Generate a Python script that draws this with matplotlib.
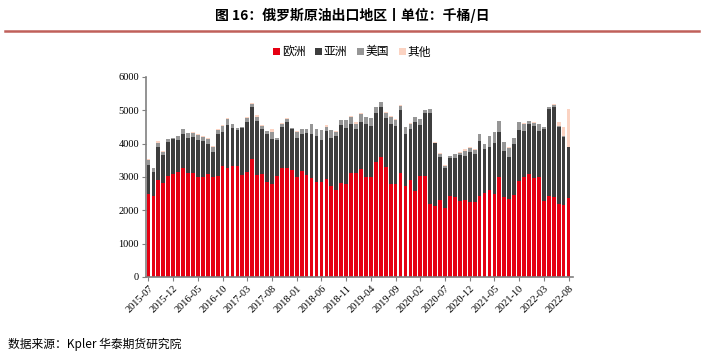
import matplotlib
matplotlib.use("Agg")
import matplotlib.pyplot as plt
from matplotlib.patches import Patch
import pandas as pd
import numpy as np

plt.rcParams['font.family'] = ['Noto Sans CJK SC', 'DejaVu Sans']

months = pd.period_range("2015-07", "2022-08", freq="M").strftime("%Y-%m").tolist()

europe = [2495, 2430, 2915, 2815, 3035, 3085, 3140, 3265, 3125, 3125,
          3015, 3015, 3095, 2990, 3035, 3345, 3265, 3345, 3345, 3075,
          3150, 3535, 3065, 3100, 2850, 2800, 3040, 3280, 3280, 3205,
          2990, 3180, 3065, 2965, 2845, 2865, 2955, 2730, 2600, 2830,
          2790, 3125, 3115, 3235, 2990, 3015, 3450, 3590, 3315, 2785,
          2800, 3110, 2725, 2900, 2595, 3020, 3030, 2200, 2140, 2320,
          2060, 2420, 2395, 2295, 2300, 2260, 2245, 2420, 2530, 2600,
          2485, 2990, 2395, 2330, 2465, 2880, 3000, 3080, 2965, 2995,
          2275, 2430, 2395, 2195, 2165, 2365]
asia = [870, 735, 990, 840, 1025, 1070, 975, 1020, 1060, 1075,
        1110, 1070, 905, 775, 1265, 1015, 1295, 1130, 1075, 1390,
        1505, 1575, 1620, 1330, 1455, 1345, 1085, 1230, 1375, 1230,
        1175, 1120, 1265, 1320, 1395, 1245, 1430, 1450, 1640, 1735,
        1690, 1475, 1335, 1425, 1590, 1520, 1485, 1510, 1465, 1815,
        1740, 1910, 1575, 1535, 2065, 1550, 1895, 2730, 1890, 1295,
        1205, 1140, 1165, 1355, 1345, 1500, 1450, 1670, 1305, 1315,
        1550, 1375, 1400, 1285, 1515, 1535, 1390, 1525, 1570, 1400,
        2180, 2625, 2715, 2320, 2035, 1525]
usa = [155, 100, 130, 110, 80, 15, 115, 145, 130, 110,
       140, 125, 150, 150, 125, 180, 185, 120, 50, 40,
       120, 90, 125, 110, 70, 215, 35, 95, 95, 25,
       195, 135, 110, 295, 200, 290, 115, 235, 125, 140,
       230, 210, 130, 230, 225, 225, 155, 145, 155, 215,
       185, 115, 200, 165, 145, 170, 75, 100, 5, 70,
       70, 65, 130, 80, 145, 100, 120, 205, 155, 320,
       325, 315, 250, 270, 195, 240, 210, 75, 75, 195,
       45, 50, 60, 15, 40, 5]
other = [25, 20, 40, 20, 10, 5, 10, 10, 20, 35,
         20, 15, 10, 10, 15, 15, 30, 10, 10, 5,
         15, 25, 40, 20, 15, 70, 15, 10, 15, 15,
         10, 10, 10, 10, 15, 15, 60, 10, 15, 10,
         10, 15, 60, 25, 10, 15, 10, 15, 10, 10,
         10, 15, 10, 10, 10, 10, 10, 10, 5, 40,
         10, 10, 10, 10, 40, 40, 10, 5, 10, 5,
         5, 10, 5, 10, 5, 10, 10, 10, 30, 10,
         15, 10, 10, 130, 250, 1140]

series_names = ["欧洲", "亚洲", "美国", "其他"]
colors = ["#E60012", "#3D3D3D", "#969696", "#FBD3C2"]
yticks = [0, 1000, 2000, 3000, 4000, 5000, 6000]

W, H = 704, 358
fig = plt.figure(figsize=(W / 100, H / 100), dpi=100)
ax = fig.add_axes([146 / W, 1 - 277 / H, (573 - 146) / W, (277 - 77) / H])

x = np.arange(len(months))
bottom = np.zeros(len(months))
for vals, c in zip([europe, asia, usa, other], colors):
    ax.bar(x, vals, bottom=bottom, width=0.76, color=c, linewidth=0)
    bottom += np.array(vals)

ax.set_xlim(-0.5, 85.9)
ax.set_ylim(0, 6000)
ax.set_yticks(yticks)
ax.set_yticklabels([str(v) for v in yticks], family="Liberation Serif", fontsize=7.5)
tick_idx = list(range(0, len(months), 5))
ax.set_xticks(tick_idx)
ax.set_xticklabels([months[i] for i in tick_idx], rotation=45, ha="right",
                   rotation_mode="anchor", family="Liberation Serif", fontsize=7.5)
for s in ["top", "right"]:
    ax.spines[s].set_visible(False)
for s in ["left", "bottom"]:
    ax.spines[s].set_color("#808080")
    ax.spines[s].set_linewidth(1.2)
ax.tick_params(axis="both", length=3, width=0.8, color="#808080", pad=2)

# title and rule
fig.text(0.5, 1 - 15 / H, "图 16：俄罗斯原油出口地区丨单位：千桶/日", ha="center", va="center",
         fontsize=10, fontweight="bold", color="black")
fig.add_artist(plt.Line2D([5 / W, 699 / W], [1 - 31 / H, 1 - 31 / H], color="#C0605A", linewidth=1.8))

handles = [Patch(facecolor=c, edgecolor="none") for c in colors]
fig.legend(handles, series_names, loc="center", bbox_to_anchor=(352 / W, 1 - 52 / H), ncol=4,
           frameon=False, fontsize=8.5, handlelength=0.6, handleheight=0.6, handletextpad=0.15,
           columnspacing=0.8, prop={"family": ["Noto Sans CJK SC"], "size": 8.5})

fig.text(8 / W, 1 - 344 / H, "数据来源：Kpler 华泰期货研究院", ha="left", va="center", fontsize=8.5,
         color="black")

fig.savefig("out.png", dpi=100)
